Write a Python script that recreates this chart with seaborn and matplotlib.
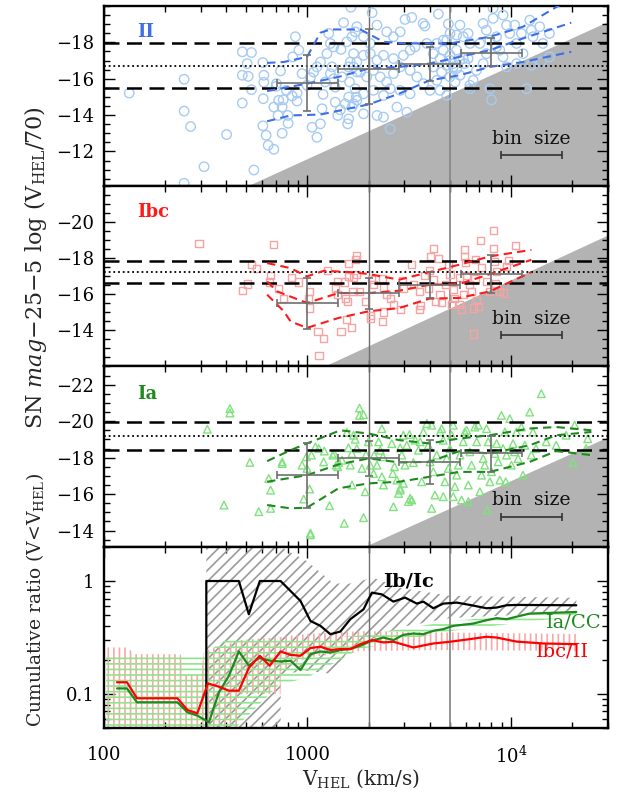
import numpy as np
import pandas as pd
import matplotlib
matplotlib.use("Agg")
import matplotlib.pyplot as plt
import seaborn as sns
from matplotlib.ticker import FixedLocator, MultipleLocator, LogLocator, NullFormatter, FixedFormatter

sns.set_theme(style="ticks")
plt.rcParams["font.family"] = ["DejaVu Serif"]
plt.rcParams["mathtext.fontset"] = "dejavuserif"
plt.rcParams["hatch.linewidth"] = 1.2

# ---------------- data (log10 V_HEL [km/s], magnitude) ----------------
ii_pts = [
    (2.124,-15.21),(2.394,-15.97),(2.394,-14.22),(2.426,-13.37),(2.492,-11.16),(2.394,-10.25),(2.603,-12.93),
    (2.737,-10.98),(2.680,-17.48),(2.725,-17.44),(2.704,-16.83),(2.680,-16.19),(2.709,-16.13),(2.725,-15.40),
    (2.680,-14.66),(2.781,-16.89),(2.786,-16.19),(2.786,-15.80),(2.783,-14.90),(2.781,-13.41),(2.797,-12.89),
    (2.807,-12.34),(2.835,-12.12),(2.876,-13.00),(2.868,-16.43),(2.848,-15.73),(2.846,-15.58),(2.835,-14.44),
    (2.876,-14.44),(2.859,-14.81),(2.881,-14.84),(2.856,-13.98),(2.904,-13.98),(2.905,-13.55),(2.897,-15.36),
    (2.925,-15.05),(2.949,-14.77),(2.949,-15.21),(2.928,-17.20),(2.958,-17.57),(2.941,-18.31),(2.974,-16.28),
    (2.998,-15.64),(3.015,-16.06),(3.023,-13.33),(3.047,-12.78),(3.064,-13.52),(3.072,-14.35),(3.077,-15.14),
    (3.088,-15.82),(3.064,-16.92),(3.096,-17.38),(3.105,-18.49),(3.113,-17.94),(3.121,-16.65),(3.129,-16.00),
    (3.137,-14.71),(3.149,-13.98),(3.162,-14.29),(3.170,-16.10),(3.165,-17.61),(3.178,-19.08),(3.194,-18.03),
    (3.198,-13.52),(3.203,-13.79),(3.207,-15.82),(3.211,-16.92),(3.214,-19.93),(3.219,-18.31),(3.227,-17.38),
    (3.235,-15.45),(3.240,-14.99),(3.227,-14.62),(3.186,-14.62),(3.203,-14.99),(3.137,-15.54),(3.113,-16.28),
    (3.031,-16.37),(3.047,-16.65),(3.129,-17.75),(3.203,-16.65),(3.243,-16.37),
    (3.318,-19.63),(3.243,-18.86),(3.235,-18.58),(3.276,-18.31),(3.309,-17.94),(3.342,-18.95),(3.390,-18.58),
    (3.423,-18.31),(3.456,-18.58),(3.480,-19.26),(3.513,-19.37),(3.569,-19.04),(3.578,-18.90),(3.644,-19.56),
    (3.693,-19.01),(3.701,-18.49),(3.750,-18.95),(3.766,-18.31),(3.734,-18.40),(3.685,-18.12),(3.636,-17.94),
    (3.587,-17.94),(3.529,-17.75),(3.505,-17.57),(3.472,-17.29),(3.423,-17.11),(3.374,-17.29),(3.342,-17.02),
    (3.309,-17.38),(3.276,-17.29),(3.243,-16.92),(3.227,-16.65),(3.260,-16.37),(3.292,-16.10),(3.325,-16.46),
    (3.358,-16.10),(3.390,-15.82),(3.423,-16.28),(3.456,-16.65),(3.505,-16.46),(3.538,-16.10),(3.571,-15.73),
    (3.603,-15.36),(3.505,-15.17),(3.456,-15.36),(3.407,-15.45),(3.374,-15.08),(3.325,-15.36),(3.276,-15.17),
    (3.243,-14.81),(3.219,-14.44),(3.276,-14.07),(3.342,-13.98),(3.374,-13.89),(3.440,-14.44),(3.489,-14.16),
    (3.407,-13.24),(3.652,-15.36),(3.685,-15.08),(3.619,-16.65),(3.652,-17.11),(3.668,-17.57),(3.701,-17.29),
    (3.734,-17.57),(3.766,-17.11),(3.717,-16.65),(3.750,-16.19),(3.799,-15.64),(3.815,-15.91),(3.799,-15.45),
    (3.897,-15.45),(3.905,-14.84),(4.077,-15.45),(3.831,-16.46),(3.864,-16.83),(3.880,-17.38),(3.848,-17.94),
    (3.897,-18.12),(3.880,-18.67),(3.864,-19.04),(3.913,-19.32),(3.913,-19.87),(3.930,-18.31),(3.946,-17.57),
    (3.962,-17.20),(3.979,-16.65),(3.962,-19.50),(3.979,-18.95),(3.995,-18.49),(4.019,-18.95),(4.028,-17.94),
    (4.060,-17.38),(4.052,-18.49),(4.093,-19.22),(4.101,-18.67),(4.109,-18.31),(4.142,-18.86),(4.158,-17.94),
    (4.190,-18.49),(4.190,-17.20),(4.150,-16.92),(4.101,-16.74),(4.028,-16.83),(3.930,-17.75),(3.799,-17.94),
    (3.790,-18.49),(3.668,-18.12),(3.619,-17.38),(3.701,-17.02),(3.717,-16.83),(3.685,-16.74),(3.734,-16.56),
    (3.750,-17.02),(3.660,-16.37),(3.701,-16.10),(3.726,-15.82),(3.636,-15.91),(3.774,-16.83),(3.790,-17.11),
]

ibc_pts = [
    (2.467,-18.83),(2.679,-16.20),(2.707,-16.57),(2.723,-17.64),(2.750,-17.41),(2.835,-18.74),(2.819,-17.05),
    (2.815,-16.68),(2.859,-16.31),(2.881,-15.79),(2.920,-16.94),(2.958,-16.68),(3.012,-16.16),(3.007,-15.76),
    (3.012,-15.24),(3.052,-13.95),(3.077,-13.55),(3.057,-12.61),(3.100,-17.30),(3.137,-16.35),(3.147,-15.98),
    (3.149,-16.71),(3.182,-16.68),(3.186,-15.79),(3.198,-15.61),(3.203,-17.73),(3.235,-17.91),(3.243,-18.15),
    (3.203,-16.99),(3.227,-16.94),(3.243,-17.08),(3.224,-16.13),(3.258,-16.16),(3.286,-15.61),(3.194,-14.60),
    (3.219,-14.14),(3.165,-13.95),(3.316,-16.81),(3.324,-16.53),(3.309,-14.84),(3.309,-14.65),(3.371,-16.86),
    (3.374,-16.35),(3.390,-15.98),(3.410,-15.79),(3.423,-15.46),(3.374,-15.02),(3.371,-14.50),(3.456,-15.15),
    (3.469,-16.75),(3.472,-16.35),(3.513,-17.67),(3.521,-16.53),(3.551,-16.13),(3.554,-15.39),(3.551,-15.15),
    (3.574,-17.05),(3.603,-18.10),(3.622,-18.56),(3.645,-17.97),(3.600,-17.30),(3.619,-16.81),(3.595,-16.31),
    (3.652,-15.98),(3.632,-15.61),(3.660,-15.57),(3.681,-16.53),(3.693,-17.64),(3.701,-17.08),(3.717,-16.25),
    (3.725,-15.79),(3.709,-15.42),(3.747,-15.46),(3.758,-15.15),(3.766,-15.98),(3.771,-18.46),(3.774,-18.10),
    (3.779,-17.78),(3.747,-16.94),(3.783,-17.05),(3.799,-16.53),(3.807,-16.16),(3.828,-17.91),(3.824,-16.86),
    (3.832,-15.65),(3.818,-15.24),(3.843,-15.33),(3.850,-18.96),(3.856,-17.49),(3.880,-16.71),(3.897,-16.13),
    (3.917,-19.51),(3.914,-18.56),(3.922,-17.82),(3.930,-17.27),(3.927,-16.62),(3.966,-16.07),(3.979,-17.54),
    (3.987,-17.86),(4.021,-18.70),(3.815,-13.80),(3.946,-16.16),
]

ia_pts = [
    (2.508,-19.56),(2.619,-20.69),(2.619,-20.45),(2.590,-15.40),(2.717,-17.74),(2.761,-15.04),(2.810,-16.86),
    (2.819,-16.22),(2.819,-15.22),(2.876,-17.77),(2.876,-17.68),(2.974,-17.59),(2.982,-15.73),(2.995,-18.05),
    (2.998,-17.41),(3.011,-16.28),(3.015,-13.86),(3.015,-13.77),(3.020,-18.14),(3.039,-18.59),(3.056,-18.50),
    (3.080,-17.77),(3.083,-18.36),(3.109,-15.37),(3.125,-18.14),(3.132,-18.23),(3.142,-17.59),(3.149,-17.50),
    (3.154,-17.74),(3.170,-17.86),(3.181,-14.40),(3.194,-19.38),(3.202,-18.54),(3.211,-17.59),(3.219,-18.23),
    (3.219,-16.50),(3.227,-19.23),(3.235,-19.01),(3.243,-18.50),(3.256,-20.72),(3.256,-20.32),(3.276,-20.36),
    (3.276,-14.71),(3.284,-16.13),(3.288,-18.17),(3.268,-17.41),(3.300,-18.87),(3.309,-17.59),(3.325,-17.13),
    (3.328,-18.14),(3.350,-18.87),(3.366,-19.59),(3.358,-18.41),(3.371,-18.05),(3.342,-17.59),(3.366,-16.95),
    (3.374,-16.50),(3.415,-18.77),(3.420,-17.13),(3.423,-15.31),(3.428,-17.50),(3.440,-16.77),(3.448,-16.04),
    (3.456,-18.54),(3.464,-18.14),(3.472,-19.23),(3.497,-15.59),(3.472,-16.59),(3.456,-16.22),
    (3.456,-16.32),(3.480,-17.59),(3.502,-19.27),(3.530,-18.96),(3.489,-18.68),(3.521,-17.73),(3.505,-15.77),
    (3.513,-15.68),(3.546,-18.41),(3.554,-18.87),(3.562,-16.68),(3.570,-19.41),(3.587,-19.87),(3.595,-18.68),
    (3.611,-15.22),(3.611,-19.78),(3.603,-17.77),(3.619,-17.23),(3.627,-15.95),(3.636,-18.14),(3.652,-19.41),
    (3.660,-19.59),(3.668,-18.96),(3.668,-15.86),(3.676,-16.68),(3.685,-17.95),(3.693,-17.41),(3.701,-18.50),
    (3.709,-19.23),(3.717,-19.78),(3.717,-15.86),(3.725,-16.41),(3.734,-17.04),(3.742,-17.59),(3.750,-18.14),
    (3.758,-15.68),(3.766,-18.87),(3.774,-19.41),(3.783,-19.50),(3.791,-15.59),(3.791,-16.50),(3.799,-18.32),
    (3.807,-17.59),(3.823,-19.68),(3.832,-18.87),(3.840,-19.78),(3.848,-16.13),(3.856,-17.04),(3.864,-17.95),
    (3.872,-17.59),(3.881,-19.59),(3.884,-15.13),(3.889,-18.87),(3.897,-16.68),(3.905,-17.23),(3.922,-18.23),
    (3.930,-18.77),(3.938,-17.77),(3.946,-16.77),(3.954,-20.32),(3.962,-18.50),(3.971,-19.41),(3.975,-16.68),
    (3.979,-18.14),(3.995,-20.14),(4.003,-17.59),(4.011,-18.77),(4.019,-18.32),(4.028,-19.41),(4.036,-17.95),
    (4.052,-19.68),(4.060,-17.04),(4.069,-18.68),(4.093,-20.50),(4.101,-18.14),(4.109,-19.41),(4.124,-18.50),
    (4.150,-21.51),(4.174,-18.87),(4.223,-18.68),(4.272,-19.23),(4.305,-17.73),(4.314,-19.78),(4.370,-18.50),
    (4.378,-19.04),
]

# percentile curves
ii_cur_up_x = [2.802,2.884,2.998,3.064,3.113,3.26,3.374,3.489,3.701,3.897,4.06,4.24]
ii_cur_up_y = [-16.87,-16.92,-17.2,-18.53,-18.71,-18.71,-18.03,-17.94,-17.94,-18.31,-18.86,-20.05]
ii_cur_md_x = [2.802,2.998,3.153,3.302,3.452,3.6,3.747,3.897,4.06,4.297]
ii_cur_md_y = [-15.32,-15.73,-16.1,-16.56,-16.65,-16.83,-17.2,-17.57,-18.22,-19.08]
ii_cur_lo_x = [2.802,2.917,3.064,3.302,3.452,3.6,3.747,3.897,4.06,4.297]
ii_cur_lo_y = [-13.66,-13.98,-14.03,-14.59,-15.18,-15.91,-16.19,-16.65,-16.92,-17.48]

ibc_cur_up_x = [2.802,2.917,2.998,3.08,3.211,3.302,3.452,3.6,3.747,3.897,4.101]
ibc_cur_up_y = [-17.73,-17.45,-16.99,-17.3,-17.23,-17.12,-16.81,-17.23,-17.64,-18.1,-18.46]
ibc_cur_md_x = [2.802,2.851,2.998,3.153,3.302,3.452,3.6,3.747,3.897,4.101]
ibc_cur_md_y = [-16.71,-16.16,-15.52,-16.07,-16.07,-16.2,-16.53,-16.57,-17.12,-17.91]
ibc_cur_lo_x = [2.802,2.884,2.917,2.998,3.153,3.302,3.452,3.6,3.747,3.897,4.101]
ibc_cur_lo_y = [-15.98,-15.06,-14.5,-14.14,-14.69,-15.06,-15.24,-15.76,-15.8,-16.16,-17.23]

ia_cur_up_x = [2.802,2.917,2.998,3.162,3.302,3.452,3.6,3.747,3.897,4.093,4.224,4.396]
ia_cur_up_y = [-17.81,-18.41,-18.78,-19.5,-19.32,-18.96,-18.78,-19.05,-19.23,-19.6,-19.68,-19.5]
ia_cur_md_x = [2.802,2.998,3.153,3.302,3.452,3.6,3.747,3.897,4.093,4.224,4.396]
ia_cur_md_y = [-16.68,-17.04,-17.63,-17.96,-17.74,-17.77,-18.36,-18.23,-18.68,-19.23,-19.41]
ia_cur_lo_x = [2.802,2.917,2.998,3.153,3.302,3.452,3.6,3.747,3.897,4.093,4.224,4.396]
ia_cur_lo_y = [-15.4,-15.22,-15.26,-16.32,-16.59,-16.68,-16.95,-17.22,-17.22,-17.77,-18.36,-18.14]

# binned means (bins of 0.3 dex)
bin_logv = [3.0, 3.301, 3.602, 3.903]
bin_half = 0.15
ii_bin_mag = [-15.78, -16.56, -16.83, -17.42]
ii_bin_hi = [-17.29, -18.71, -17.75, -18.22]
ii_bin_lo = [-14.25, -14.59, -15.86, -16.69]
ibc_bin_mag = [-15.52, -16.07, -16.53, -17.12]
ibc_bin_hi = [-16.90, -16.90, -17.23, -18.19]
ibc_bin_lo = [-14.10, -15.20, -15.80, -16.07]
ia_bin_mag = [-17.04, -17.96, -17.74, -18.23]
ia_bin_hi = [-18.78, -18.90, -18.96, -19.19]
ia_bin_lo = [-15.22, -17.00, -16.54, -17.22]

# mean and +-sigma horizontal levels
ii_levels = [-17.96, -16.69, -15.47]
ibc_levels = [-17.86, -17.25, -16.60]
ia_levels = [-19.96, -19.19, -18.43]

# magnitude-limit shading (two end points of boundary)
ii_shade = ([2.704, 4.477], [-10.1, -19.15])
ibc_shade = ([3.080, 4.477], [-12.0, -19.29])
ia_shade = ([3.276, 4.477], [-13.1, -19.14])

# cumulative ratios
ibic_x = [2.503,2.503,2.663,2.712,2.766,2.868,2.966,3.015,3.064,3.113,3.162,3.211,3.276,3.317,3.366,3.423,
          3.48,3.538,3.57,3.619,3.668,3.734,3.799,3.881,3.93,3.979,4.028,4.322]
ibic_y = [0.04,1.0,1.0,0.508,1.0,1.0,0.666,0.443,0.401,0.338,0.357,0.459,0.562,0.789,0.762,0.657,
          0.713,0.631,0.657,0.574,0.631,0.644,0.614,0.574,0.582,0.61,0.614,0.61]
iacc_x = [2.064,2.113,2.162,2.361,2.41,2.459,2.516,2.565,2.614,2.663,2.712,2.761,2.819,2.868,2.917,2.966,
          3.015,3.064,3.113,3.162,3.211,3.26,3.317,3.374,3.423,3.472,3.521,3.57,3.619,3.668,3.717,3.815,
          3.881,3.93,3.979,4.044,4.093,4.191,4.322]
iacc_y = [0.112,0.112,0.0844,0.0844,0.0689,0.0644,0.0562,0.1035,0.145,0.238,0.178,0.208,0.197,0.194,0.197,0.163,
          0.225,0.238,0.233,0.245,0.25,0.267,0.296,0.316,0.30,0.334,0.343,0.338,0.362,0.375,0.401,0.42,
          0.45,0.469,0.459,0.491,0.515,0.522,0.532]
ibcii_x = [2.064,2.113,2.162,2.361,2.41,2.459,2.511,2.565,2.614,2.663,2.712,2.766,2.815,2.868,2.917,2.966,
           3.015,3.064,3.113,3.162,3.211,3.26,3.317,3.374,3.423,3.521,3.619,3.701,3.799,3.881,3.93,4.028,
           4.159,4.322]
ibcii_y = [0.127,0.127,0.0916,0.0916,0.0722,0.0675,0.124,0.116,0.107,0.107,0.17,0.218,0.178,0.238,0.222,0.218,
           0.255,0.262,0.245,0.25,0.25,0.276,0.30,0.286,0.29,0.258,0.28,0.29,0.306,0.321,0.316,0.291,
           0.28,0.276]

# uncertainty bands
ibic_band_x = [2.503,2.868,2.869,2.998,3.129,3.211,3.325,3.456,3.701,4.322]
ibic_band_lo = [0.045,0.045,0.15,0.16,0.15,0.26,0.31,0.39,0.47,0.53]
ibic_band_hi = [2.0,2.0,2.0,1.5,0.95,0.95,1.07,0.87,0.74,0.71]
ibcii_band_x = [2.01,2.116,2.149,2.377,2.394,2.475,2.492,2.672,2.673,2.868,2.869,2.998,3.26,3.7,4.322]
ibcii_band_lo = [0.045,0.045,0.045,0.045,0.045,0.045,0.045,0.045,0.10,0.10,0.16,0.21,0.24,0.245,0.24]
ibcii_band_hi = [0.258,0.258,0.225,0.225,0.148,0.148,0.24,0.30,0.30,0.32,0.32,0.34,0.36,0.35,0.34]
iacc_band_x = [2.01,2.49,2.62,2.86,3.0,3.26,3.7,4.322]
iacc_band_lo = [0.045,0.045,0.045,0.12,0.14,0.25,0.36,0.49]
iacc_band_hi = [0.225,0.225,0.32,0.32,0.30,0.33,0.44,0.56]

# ---------------- figure ----------------
fig = plt.figure(figsize=(6.19, 7.92), dpi=100)
L, R = 0.168, 0.982
edges = [0.99242, 0.76515, 0.53725, 0.30934, 0.08081]
axes = []
for i in range(4):
    ax = fig.add_axes([L, edges[i + 1], R - L, edges[i] - edges[i + 1]])
    axes.append(ax)

XMIN, XMAX = 100, 30000
GRAYV = "#6e6e6e"

panels = [
    dict(pts=ii_pts, marker="o", s=46, pc="#a6cbf2", lc="#3f6fe6", lab="II", ylim=(-10.1, -20.0),
         yt=[-18, -16, -14, -12], lev=ii_levels, shade=ii_shade,
         cur=[(ii_cur_up_x, ii_cur_up_y), (ii_cur_md_x, ii_cur_md_y), (ii_cur_lo_x, ii_cur_lo_y)],
         bm=ii_bin_mag, bh=ii_bin_hi, bl=ii_bin_lo, labmag=-18.58, binmag=-11.8, bintxt=-12.7),
    dict(pts=ibc_pts, marker="s", s=26, pc="#f6a3a3", lc="#ff1a1a", lab="Ibc", ylim=(-12.0, -22.0),
         yt=[-20, -18, -16, -14], lev=ibc_levels, shade=ibc_shade,
         cur=[(ibc_cur_up_x, ibc_cur_up_y), (ibc_cur_md_x, ibc_cur_md_y), (ibc_cur_lo_x, ibc_cur_lo_y)],
         bm=ibc_bin_mag, bh=ibc_bin_hi, bl=ibc_bin_lo, labmag=-20.56, binmag=-13.73, bintxt=-14.64),
    dict(pts=ia_pts, marker="^", s=30, pc="#80e27e", lc="#1e8a1e", lab="Ia", ylim=(-13.1, -23.0),
         yt=[-22, -20, -18, -16, -14], lev=ia_levels, shade=ia_shade,
         cur=[(ia_cur_up_x, ia_cur_up_y), (ia_cur_md_x, ia_cur_md_y), (ia_cur_lo_x, ia_cur_lo_y)],
         bm=ia_bin_mag, bh=ia_bin_hi, bl=ia_bin_lo, labmag=-21.5, binmag=-14.76, bintxt=-15.68),
]

for ax, p in zip(axes[:3], panels):
    ax.set_xscale("log")
    ax.set_xlim(XMIN, XMAX)
    ax.set_ylim(*p["ylim"])
    # shaded magnitude-limit region
    ax.fill_between(10 ** np.array(p["shade"][0]), p["shade"][1], p["ylim"][0],
                    color="#b3b3b3", lw=0, zorder=0.5)
    # vertical reference lines
    ax.axvline(2000, color=GRAYV, lw=1.0, zorder=1.5)
    ax.axvline(5000, color="#8a8a8a", lw=1.3, zorder=1.5)
    # scatter
    df = pd.DataFrame(p["pts"], columns=["logv", "mag"])
    df["v"] = 10 ** df["logv"]
    sns.scatterplot(data=df, x="v", y="mag", ax=ax, marker=p["marker"], s=p["s"],
                    facecolor="none", edgecolor=p["pc"], linewidth=1.0, zorder=2, legend=False)
    # horizontal mean / sigma levels
    ax.axhline(p["lev"][0], color="black", lw=1.8, ls=(0, (6, 3)), zorder=3)
    ax.axhline(p["lev"][1], color="black", lw=1.3, ls=(0, (1, 1.6)), zorder=3)
    ax.axhline(p["lev"][2], color="black", lw=1.8, ls=(0, (6, 3)), zorder=3)
    # percentile curves
    for cx, cy in p["cur"]:
        sns.lineplot(x=10 ** np.array(cx), y=cy, ax=ax, color=p["lc"], lw=1.5,
                     estimator=None, sort=False, zorder=3.5)
        ax.lines[-1].set_dashes((4, 2.5))
    # binned crosses
    bv = 10 ** np.array(bin_logv)
    xlo = bv - 10 ** (np.array(bin_logv) - bin_half)
    xhi = 10 ** (np.array(bin_logv) + bin_half) - bv
    bm = np.array(p["bm"])
    yerr = [np.abs(bm - np.array(p["bh"])), np.abs(np.array(p["bl"]) - bm)]
    ax.errorbar(bv, bm, xerr=[xlo, xhi], yerr=yerr, fmt="none", ecolor="#707070",
                elinewidth=1.2, capsize=3, capthick=1.2, zorder=4)
    # bin size scale bar
    bc = 4.10
    ax.errorbar([10 ** bc], [p["binmag"]],
                xerr=[[10 ** bc - 10 ** (bc - bin_half)], [10 ** (bc + bin_half) - 10 ** bc]],
                fmt="none", ecolor="#333333", elinewidth=1.2, capsize=3, capthick=1.2, zorder=4)
    ax.text(10 ** bc, p["bintxt"], "bin  size", ha="center", va="center", fontsize=13.5, color="#111111")
    ax.text(10 ** 2.162, p["labmag"], p["lab"], ha="left", va="center", fontsize=13,
            fontweight="bold", color=p["lc"])
    # ticks
    ax.yaxis.set_major_locator(FixedLocator(p["yt"]))
    ax.yaxis.set_minor_locator(MultipleLocator(0.5))
    ax.set_yticklabels(["\u2212%d" % abs(t) for t in p["yt"]])
    ax.tick_params(labelbottom=False)
    ax.set_xlabel("")
    ax.set_ylabel("")

# ---------------- cumulative ratio panel ----------------
ax = axes[3]
ax.set_xscale("log")
ax.set_yscale("log")
ax.set_xlim(XMIN, XMAX)
ax.set_ylim(0.05, 2.0)
ax.fill_between(10 ** np.array(ibic_band_x), ibic_band_lo, ibic_band_hi, facecolor="none",
                edgecolor="#9a9a9a", hatch="///", lw=0, zorder=1)
ax.fill_between(10 ** np.array(ibcii_band_x), ibcii_band_lo, ibcii_band_hi, facecolor="none",
                edgecolor="#f7a8a8", hatch="|||", lw=0, zorder=1.1)
ax.fill_between(10 ** np.array(iacc_band_x), iacc_band_lo, iacc_band_hi, facecolor="none",
                edgecolor="#8ee68a", hatch="---", lw=0, zorder=1.2)
ax.axvline(2000, color=GRAYV, lw=1.0, zorder=1.5)
ax.axvline(5000, color="#8a8a8a", lw=1.3, zorder=1.5)
sns.lineplot(x=10 ** np.array(ibic_x), y=ibic_y, ax=ax, color="black", lw=1.6,
             estimator=None, sort=False, zorder=3)
sns.lineplot(x=10 ** np.array(iacc_x), y=iacc_y, ax=ax, color="#1e8a1e", lw=1.6,
             estimator=None, sort=False, zorder=3)
sns.lineplot(x=10 ** np.array(ibcii_x), y=ibcii_y, ax=ax, color="#ff0000", lw=1.6,
             estimator=None, sort=False, zorder=3.1)
ax.text(10 ** 3.373, 1.0, "Ib/Ic", color="black", fontsize=14, fontweight="bold", ha="left", va="center")
ax.text(10 ** 4.175, 0.43, "Ia/CC", color="#1e8a1e", fontsize=14, ha="left", va="center")
ax.text(10 ** 4.126, 0.238, "Ibc/II", color="#ff0000", fontsize=14, ha="left", va="center")
ax.yaxis.set_major_locator(FixedLocator([0.1, 1.0]))
ax.yaxis.set_major_formatter(FixedFormatter(["0.1", "1"]))
ax.yaxis.set_minor_locator(LogLocator(base=10, subs=np.arange(2, 10)))
ax.yaxis.set_minor_formatter(NullFormatter())
ax.set_xlabel("")
ax.set_ylabel("")

for a in axes:
    a.xaxis.set_major_locator(FixedLocator([100, 1000, 10000]))
    a.xaxis.set_minor_locator(LogLocator(base=10, subs=np.arange(2, 10)))
    a.xaxis.set_minor_formatter(NullFormatter())
    a.tick_params(which="both", direction="in", top=True, right=True, colors="black",
                  labelsize=13, pad=7)
    a.tick_params(which="major", length=8, width=1.0)
    a.tick_params(which="minor", length=4, width=1.0)
    for s in a.spines.values():
        s.set_linewidth(1.7)
        s.set_color("black")
axes[3].xaxis.set_major_formatter(FixedFormatter(["100", "1000", r"$10^4$"]))
axes[3].tick_params(axis="x", which="major", pad=13)

fig.text(0.057, 0.662, r"SN $mag$$-$25$-$5 log (V$_{\rm HEL}$/70)", rotation=90,
         ha="center", va="center", fontsize=16)
fig.text(0.057, 0.243, r"Cumulative ratio (V<V$_{\rm HEL}$)", rotation=90,
         ha="center", va="center", fontsize=13.5)
fig.text(0.584, 0.017, r"V$_{\rm HEL}$ (km/s)", ha="center", va="center", fontsize=14.5)

fig.savefig("out.png", dpi=100)
